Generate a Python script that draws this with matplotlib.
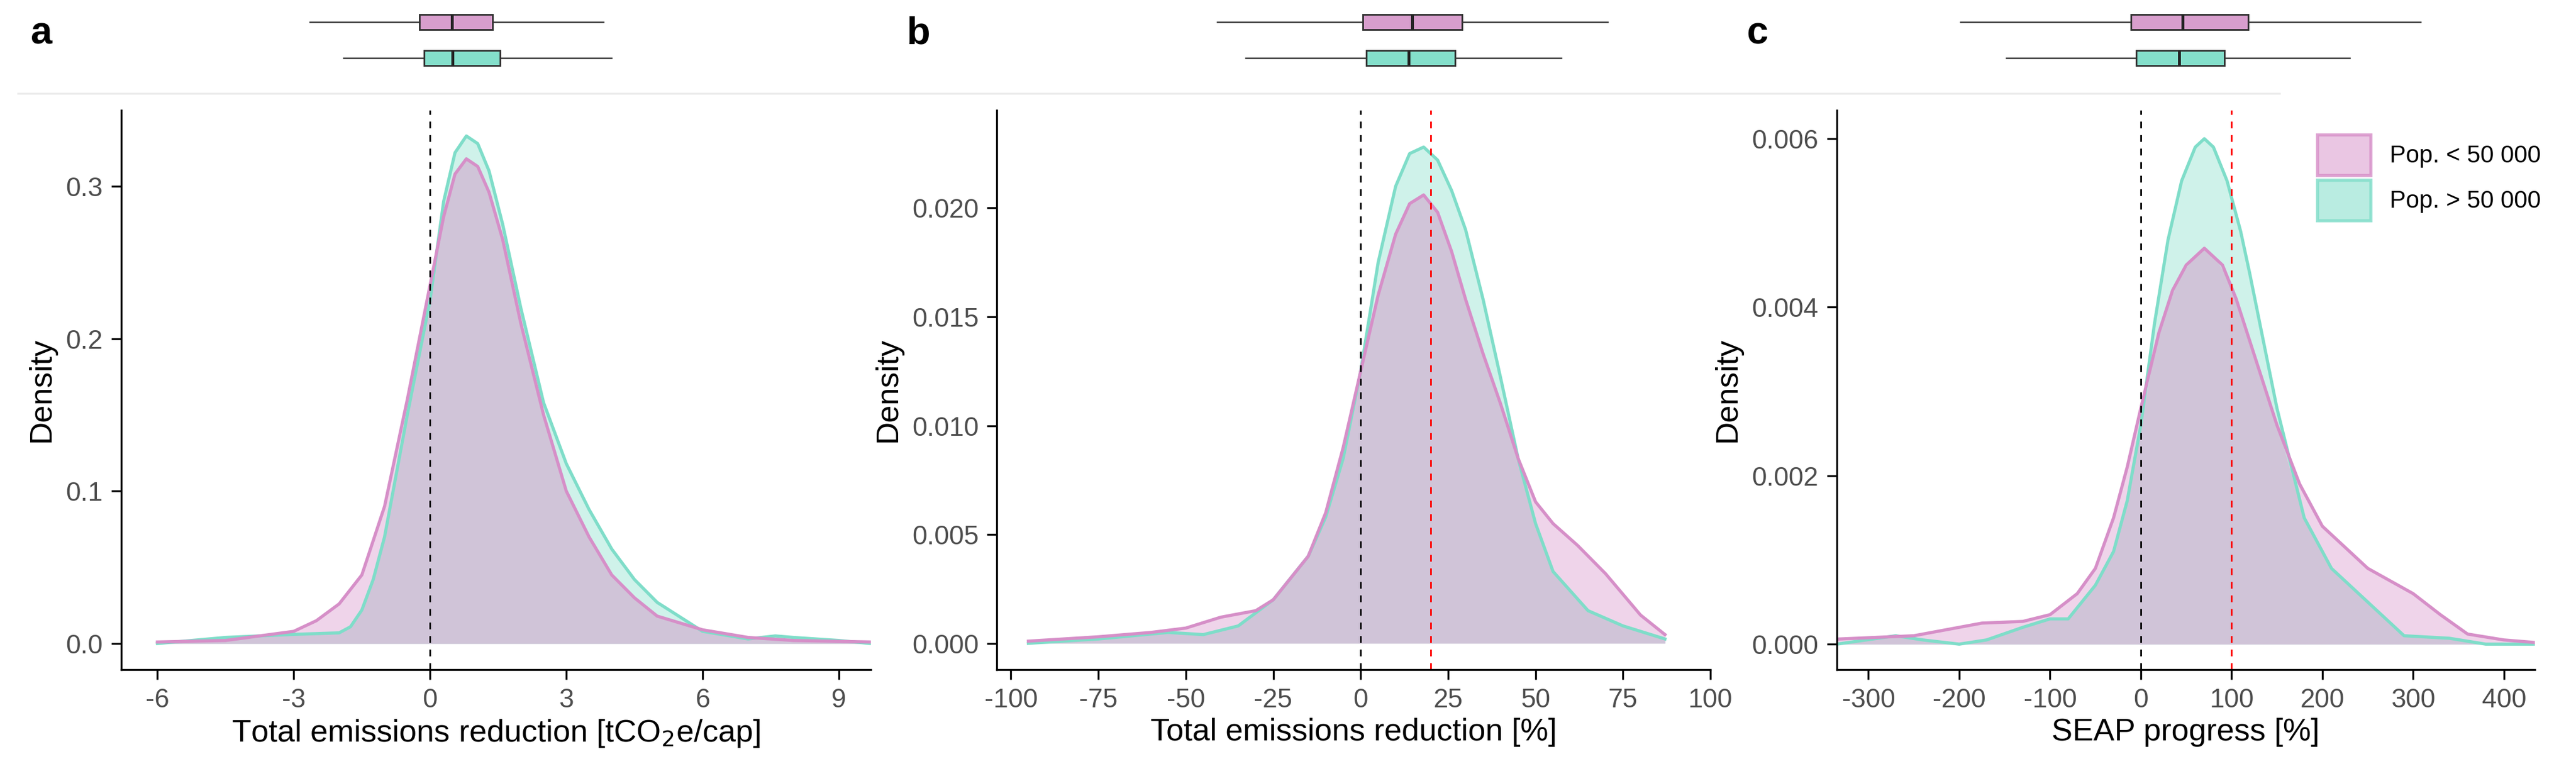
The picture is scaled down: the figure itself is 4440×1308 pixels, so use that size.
import numpy as np
import matplotlib.pyplot as plt
from matplotlib.patches import Patch
from matplotlib.lines import Line2D

PINK_FILL = "#E5B8DC"
PINK_LINE = "#D68FC8"
PINK_BOX = "#D89ECD"
TEAL_FILL = "#A8E8DA"
TEAL_LINE = "#7FDDC9"
TEAL_BOX = "#84DFCB"

# panel a: total emissions reduction [tCO2e/cap]
a_x_small = [-6, -4.5, -3, -2.5, -2, -1.5, -1, -0.5, 0, 0.3, 0.55, 0.8, 1.05, 1.3, 1.6, 2, 2.5, 3, 3.5, 4, 4.5,
             5, 6, 7, 8, 9.7]
a_y_small = [0.001, 0.002, 0.008, 0.015, 0.026, 0.045, 0.09, 0.16, 0.235, 0.28, 0.308, 0.318, 0.313, 0.296,
             0.265, 0.21, 0.15, 0.10, 0.07, 0.045, 0.03, 0.018, 0.009, 0.004, 0.002, 0.001]
a_x_large = [-6, -4.5, -3, -2, -1.75, -1.5, -1.25, -1, -0.5, 0, 0.3, 0.55, 0.8, 1.05, 1.3, 1.6, 2, 2.5, 3, 3.5, 4,
             4.5, 5, 6, 7, 7.6, 8, 9, 9.7]
a_y_large = [0.0, 0.004, 0.006, 0.007, 0.011, 0.022, 0.042, 0.07, 0.15, 0.225, 0.29, 0.322, 0.333, 0.328, 0.31,
             0.275, 0.22, 0.158, 0.118, 0.088, 0.062, 0.042, 0.027, 0.008, 0.003, 0.005, 0.004, 0.002, 0.0]
# box stats: whisker low, q1, median, q3, whisker high
a_box_small = [-2.64, -0.23, 0.48, 1.38, 3.81]
a_box_large = [-1.9, -0.13, 0.5, 1.54, 4.0]

# panel b: total emissions reduction [%]
b_x_small = [-95, -75, -60, -50, -40, -30, -25, -15, -10, -5, 0, 5, 10, 14, 18, 22, 26, 30, 35, 40, 45, 50, 55,
             62, 70, 80, 87]
b_y_small = [0.0001, 0.0003, 0.0005, 0.0007, 0.0012, 0.0015, 0.002, 0.004, 0.006, 0.009, 0.0125, 0.016, 0.0188,
             0.0202, 0.0206, 0.0198, 0.018, 0.0158, 0.0133, 0.011, 0.0085, 0.0065, 0.0055, 0.0045, 0.0032, 0.0013,
             0.0004]
b_x_large = [-95, -75, -55, -45, -35, -25, -15, -10, -5, 0, 5, 10, 14, 18, 22, 26, 30, 35, 40, 45, 50, 55, 65, 75,
             87]
b_y_large = [0.0, 0.0002, 0.0005, 0.0004, 0.0008, 0.002, 0.004, 0.0058, 0.0085, 0.0125, 0.0175, 0.021, 0.0225,
             0.0228, 0.0222, 0.0208, 0.019, 0.0158, 0.0122, 0.0085, 0.0055, 0.0033, 0.0015, 0.0008, 0.0002]
b_box_small = [-42, -1, 13, 27, 68]
b_box_large = [-34, 0, 12, 25, 55]

# panel c: SEAP progress [%]
c_x_small = [-335, -250, -200, -175, -130, -100, -70, -50, -30, -15, 0, 20, 35, 50, 70, 90, 105, 120, 135, 150,
             175, 200, 250, 300, 330, 360, 400, 434]
c_y_small = [0.00006, 0.0001, 0.0002, 0.00025, 0.00027, 0.00035, 0.0006, 0.0009, 0.0015, 0.0021, 0.0028, 0.0037,
             0.0042, 0.0045, 0.0047, 0.0045, 0.0041, 0.0036, 0.0031, 0.0026, 0.0019, 0.0014, 0.0009, 0.0006,
             0.00035, 0.00012, 0.00005, 0.00002]
c_x_large = [-335, -270, -240, -200, -170, -130, -100, -80, -50, -30, -15, 0, 15, 30, 45, 60, 70, 80, 95, 110, 120,
             135, 150, 180, 210, 250, 290, 340, 380, 434]
c_y_large = [0.0, 0.0001, 0.00005, 0.0, 0.00005, 0.0002, 0.0003, 0.0003, 0.0007, 0.0011, 0.0017, 0.0026, 0.0038,
             0.0048, 0.0055, 0.0059, 0.006, 0.0059, 0.0055, 0.0049, 0.0044, 0.0036, 0.0028, 0.0015, 0.0009, 0.0005,
             0.0001, 0.00007, 0.0, 0.0]
c_box_small = [-199, -11, 46, 118, 308]
c_box_large = [-148, -5, 42, 92, 230]

panels = [
    dict(label="a", xs=a_x_small, ys=a_y_small, xl=a_x_large, yl=a_y_large, bs=a_box_small, bl=a_box_large,
         xlim=(-6.8, 9.7), ylim=(-0.017, 0.35), xticks=[-6, -3, 0, 3, 6, 9], yticks=[0.0, 0.1, 0.2, 0.3],
         yfmt="{:.1f}", xlabel="Total emissions reduction [tCO$_2$e/cap]", red=None, left=0.047, right=0.338),
    dict(label="b", xs=b_x_small, ys=b_y_small, xl=b_x_large, yl=b_y_large, bs=b_box_small, bl=b_box_large,
         xlim=(-104, 97), ylim=(-0.0012, 0.0245), xticks=[-100, -75, -50, -25, 0, 25, 50, 75, 100],
         yticks=[0.0, 0.005, 0.010, 0.015, 0.020], yfmt="{:.3f}", xlabel="Total emissions reduction [%]", red=20,
         left=0.387, right=0.664),
    dict(label="c", xs=c_x_small, ys=c_y_small, xl=c_x_large, yl=c_y_large, bs=c_box_small, bl=c_box_large,
         xlim=(-335, 434), ylim=(-0.0003, 0.00634), xticks=[-300, -200, -100, 0, 100, 200, 300, 400],
         yticks=[0.0, 0.002, 0.004, 0.006], yfmt="{:.3f}", xlabel="SEAP progress [%]", red=100,
         left=0.713, right=0.984),
]

plt.rcParams['font.family'] = ['Liberation Sans', 'DejaVu Sans']
plt.rcParams['axes.unicode_minus'] = False
fig = plt.figure(figsize=(14.8, 4.36), dpi=300)

for p in panels:
    w = p["right"] - p["left"]
    ax = fig.add_axes([p["left"], 0.118, w, 0.737])
    ax.fill_between(p["xs"], p["ys"], color=PINK_FILL, alpha=0.6, lw=0)
    ax.fill_between(p["xl"], p["yl"], color=TEAL_FILL, alpha=0.55, lw=0)
    ax.fill_between(p["xl"], np.minimum(p["yl"], np.interp(p["xl"], p["xs"], p["ys"])), color="#D0C4D8", lw=0)
    ax.plot(p["xl"], p["yl"], color=TEAL_LINE, lw=1.3)
    ax.plot(p["xs"], p["ys"], color=PINK_LINE, lw=1.3)
    ax.axvline(0, color="black", ls=(0, (4, 4)), lw=0.7)
    if p["red"] is not None:
        ax.axvline(p["red"], color="red", ls=(0, (4, 4)), lw=0.7)
    ax.set_xlim(*p["xlim"])
    ax.set_ylim(*p["ylim"])
    ax.set_xticks(p["xticks"])
    ax.set_yticks(p["yticks"])
    ax.set_yticklabels([p["yfmt"].format(v) for v in p["yticks"]])
    ax.tick_params(labelsize=11, colors="#4D4D4D", length=4)
    ax.tick_params(axis="both", color="black")
    ax.spines[["top", "right"]].set_visible(False)
    ax.set_xlabel(p["xlabel"], fontsize=13, labelpad=2)
    ax.set_ylabel("Density", fontsize=13)

    # boxplots on top
    bax = fig.add_axes([p["left"], 0.895, w, 0.1])
    stats = []
    for b in (p["bl"], p["bs"]):
        stats.append(dict(whislo=b[0], q1=b[1], med=b[2], q3=b[3], whishi=b[4], fliers=[]))
    bp = bax.bxp(stats, positions=[0, 1], vert=False, widths=0.42, patch_artist=True, showcaps=False,
                 boxprops=dict(lw=0.7, edgecolor="#333333"), whiskerprops=dict(lw=0.6, color="#333333"),
                 medianprops=dict(lw=1.2, color="#222222"))
    bp["boxes"][0].set_facecolor(TEAL_BOX)
    bp["boxes"][1].set_facecolor(PINK_BOX)
    bax.set_xlim(*p["xlim"])
    bax.set_ylim(-0.6, 1.5)
    bax.axis("off")

    fig.text(p["left"] - 0.035, 0.955, p["label"], fontsize=16, fontweight="bold", va="center")

fig.add_artist(Line2D([0.007, 0.885], [0.877, 0.877], color="#EBEBEB", lw=0.8))

handles = [Patch(facecolor=PINK_FILL, edgecolor=PINK_LINE, lw=1.3, alpha=0.8, label="Pop. < 50 000"),
           Patch(facecolor=TEAL_FILL, edgecolor=TEAL_LINE, lw=1.3, alpha=0.8, label="Pop. > 50 000")]
fig.legend(handles=handles, loc="upper left", bbox_to_anchor=(0.893, 0.845), frameon=False, fontsize=10,
           handlelength=2.2, handleheight=2.2, labelspacing=0.2, borderpad=0.2)

fig.savefig("out.png", dpi=300)
